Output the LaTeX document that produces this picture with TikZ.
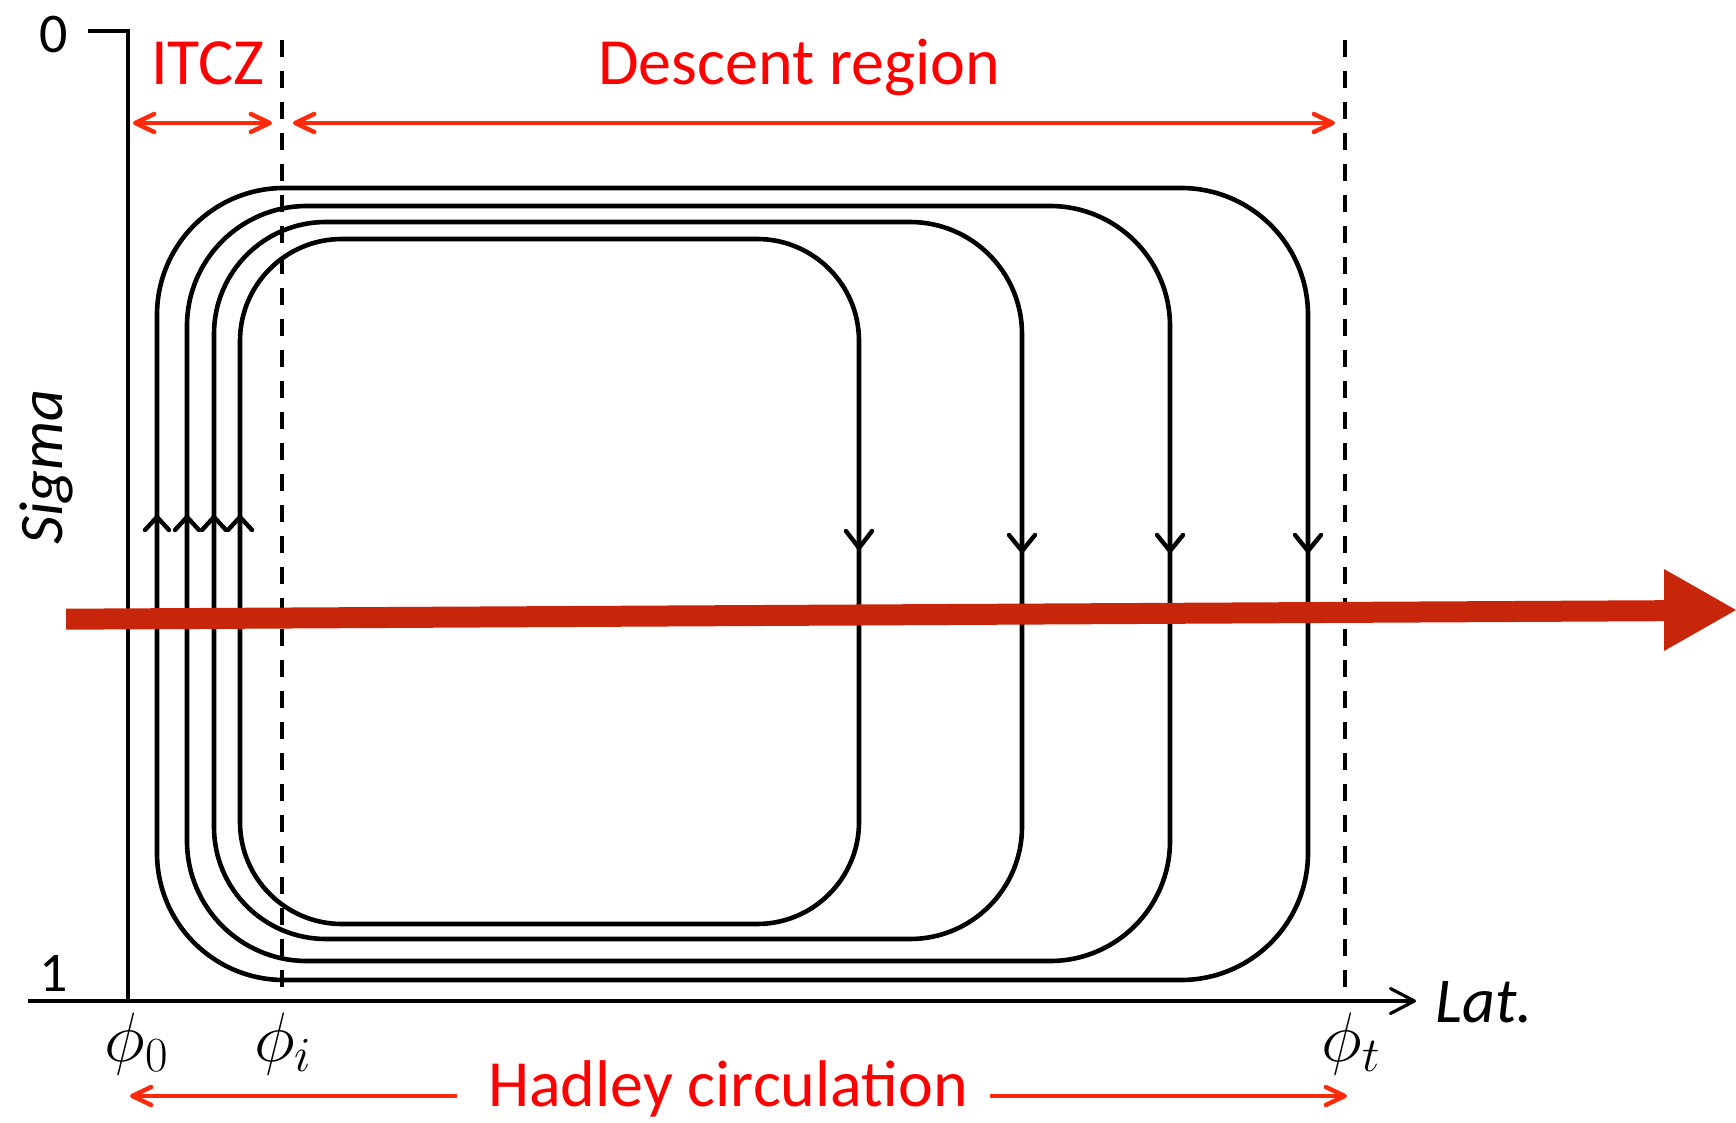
\documentclass[tikz,border=0pt]{standalone}
\usepackage{fix-cm}
\usepackage[no-math]{fontspec}
\setmainfont{Carlito}
\usetikzlibrary{arrows.meta}
\definecolor{labelred}{RGB}{255,0,0}
\definecolor{spanred}{RGB}{255,42,12}
\definecolor{flowred}{RGB}{200,38,10}
\tikzset{
  spanbarb/.tip={Straight Barb[length=9.5pt, width=9pt, line cap=round, line join=round]},
  axisbarb/.tip={Straight Barb[length=12pt, width=12.5pt, line cap=round, line join=round]}
}

\begin{document}
\begin{tikzpicture}[x=0.5pt,y=-0.5pt,
  axisline/.style={line width=1.6pt, black},
  streamline/.style={line width=2.3pt, black},
  guideline/.style={line width=1.8pt, black, dash pattern=on 8.5pt off 7pt},
  chevron/.style={line width=2.2pt, black, line cap=round, line join=miter},
  spanarrow/.style={line width=2.2pt, spanred, -{spanbarb}},
  redlabel/.style={font=\fontsize{33}{40}\selectfont, text=labelred, inner sep=0pt, anchor=base},
  ticklabel/.style={inner sep=0pt, anchor=base, font=\fontsize{28}{33}\selectfont},
  philabel/.style={font=\fontsize{35}{42}\selectfont, inner sep=0pt, anchor=base}
]
\useasboundingbox (0,0) rectangle (1736,1123);

% key points of the axes and the region bounds
\coordinate (tick) at (88,31);
\coordinate (ytop) at (128,31);
\coordinate (origin) at (128,1001);
\coordinate (xstart) at (28,1001);
\coordinate (xend) at (1416,1001);
\coordinate (phiitop) at (282,40);
\coordinate (phiibot) at (282,990);
\coordinate (phittop) at (1345,40);
\coordinate (phitbot) at (1345,990);

% nested overturning cells
\draw[streamline, rounded corners=63.5pt] (157,188) rectangle (1308,980);
\draw[streamline, rounded corners=60pt] (187,206) rectangle (1170,961);
\draw[streamline, rounded corners=56pt] (214,222) rectangle (1022,939);
\draw[streamline, rounded corners=51pt] (240,239) rectangle (859,924);

% ascent chevrons on the left branches
\foreach \x in {157,187,214,240}
  \draw[chevron] (\x-12,530) -- (\x,517) -- (\x+12,530);
% descent chevrons on the right branches
\draw[chevron] (859-13,531) -- (859,548) -- (859+13,531);
\foreach \x in {1022,1170,1308}
  \draw[chevron] (\x-13,535) -- (\x,551) -- (\x+13,535);

% bounds of the ITCZ and of the Hadley cell
\draw[guideline] (phiitop) -- (phiibot);
\draw[guideline] (phittop) -- (phitbot);

% axes
\draw[axisline] (tick) -- (ytop) -- (origin);
\draw[axisline, -{axisbarb}] (xstart) -- (xend);

% extents of the regions
\coordinate (itczL) at (133,123);
\coordinate (itczR) at (272,123);
\coordinate (descL) at (293,123);
\coordinate (descR) at (1335,123);
\coordinate (hadL) at (130,1096);
\coordinate (hadLs) at (457,1096);
\coordinate (hadRs) at (990,1096);
\coordinate (hadR) at (1347,1096);
\draw[spanarrow, {spanbarb}-{spanbarb}] (itczL) -- (itczR);
\draw[spanarrow, {spanbarb}-{spanbarb}] (descL) -- (descR);
\draw[spanarrow] (hadLs) -- (hadL);
\draw[spanarrow] (hadRs) -- (hadR);

% labels
\node[redlabel] (itcz) at (208,85) {ITCZ};
\node[redlabel] (desc) at (799,85) {Descent region};
\node[redlabel] (hadley) at (728,1106) {Hadley circulation};
\node[ticklabel] (zero) at (54,53) {0};
\node[ticklabel] (one) at (54,991) {1};
\node[inner sep=0pt, anchor=base west, font=\fontsize{32}{38}\selectfont\itshape] (lat) at (1435,1022) {Lat.};
\node[inner sep=0pt, rotate=90, font=\fontsize{31}{38}\selectfont\itshape] (sigma) at (46,467) {Sigma};
\node[philabel] (phi0) at (137,1061) {$\phi_0$};
\node[philabel] (phii) at (283,1061) {$\phi_i$};
\node[philabel] (phit) at (1351,1061) {$\phi_t$};

% broad flow arrow across the cells
\coordinate (fa1) at (66,608.7);
\coordinate (fa2) at (1664,600.2);
\coordinate (fa3) at (1664,569);
\coordinate (fatip) at (1736,610);
\coordinate (fa4) at (1664,651);
\coordinate (fa5) at (1664,621.2);
\coordinate (fa6) at (66,629.7);
\fill[flowred] (fa1) -- (fa2) -- (fa3) -- (fatip) -- (fa4) -- (fa5) -- (fa6) -- cycle;
\end{tikzpicture}
\end{document}
